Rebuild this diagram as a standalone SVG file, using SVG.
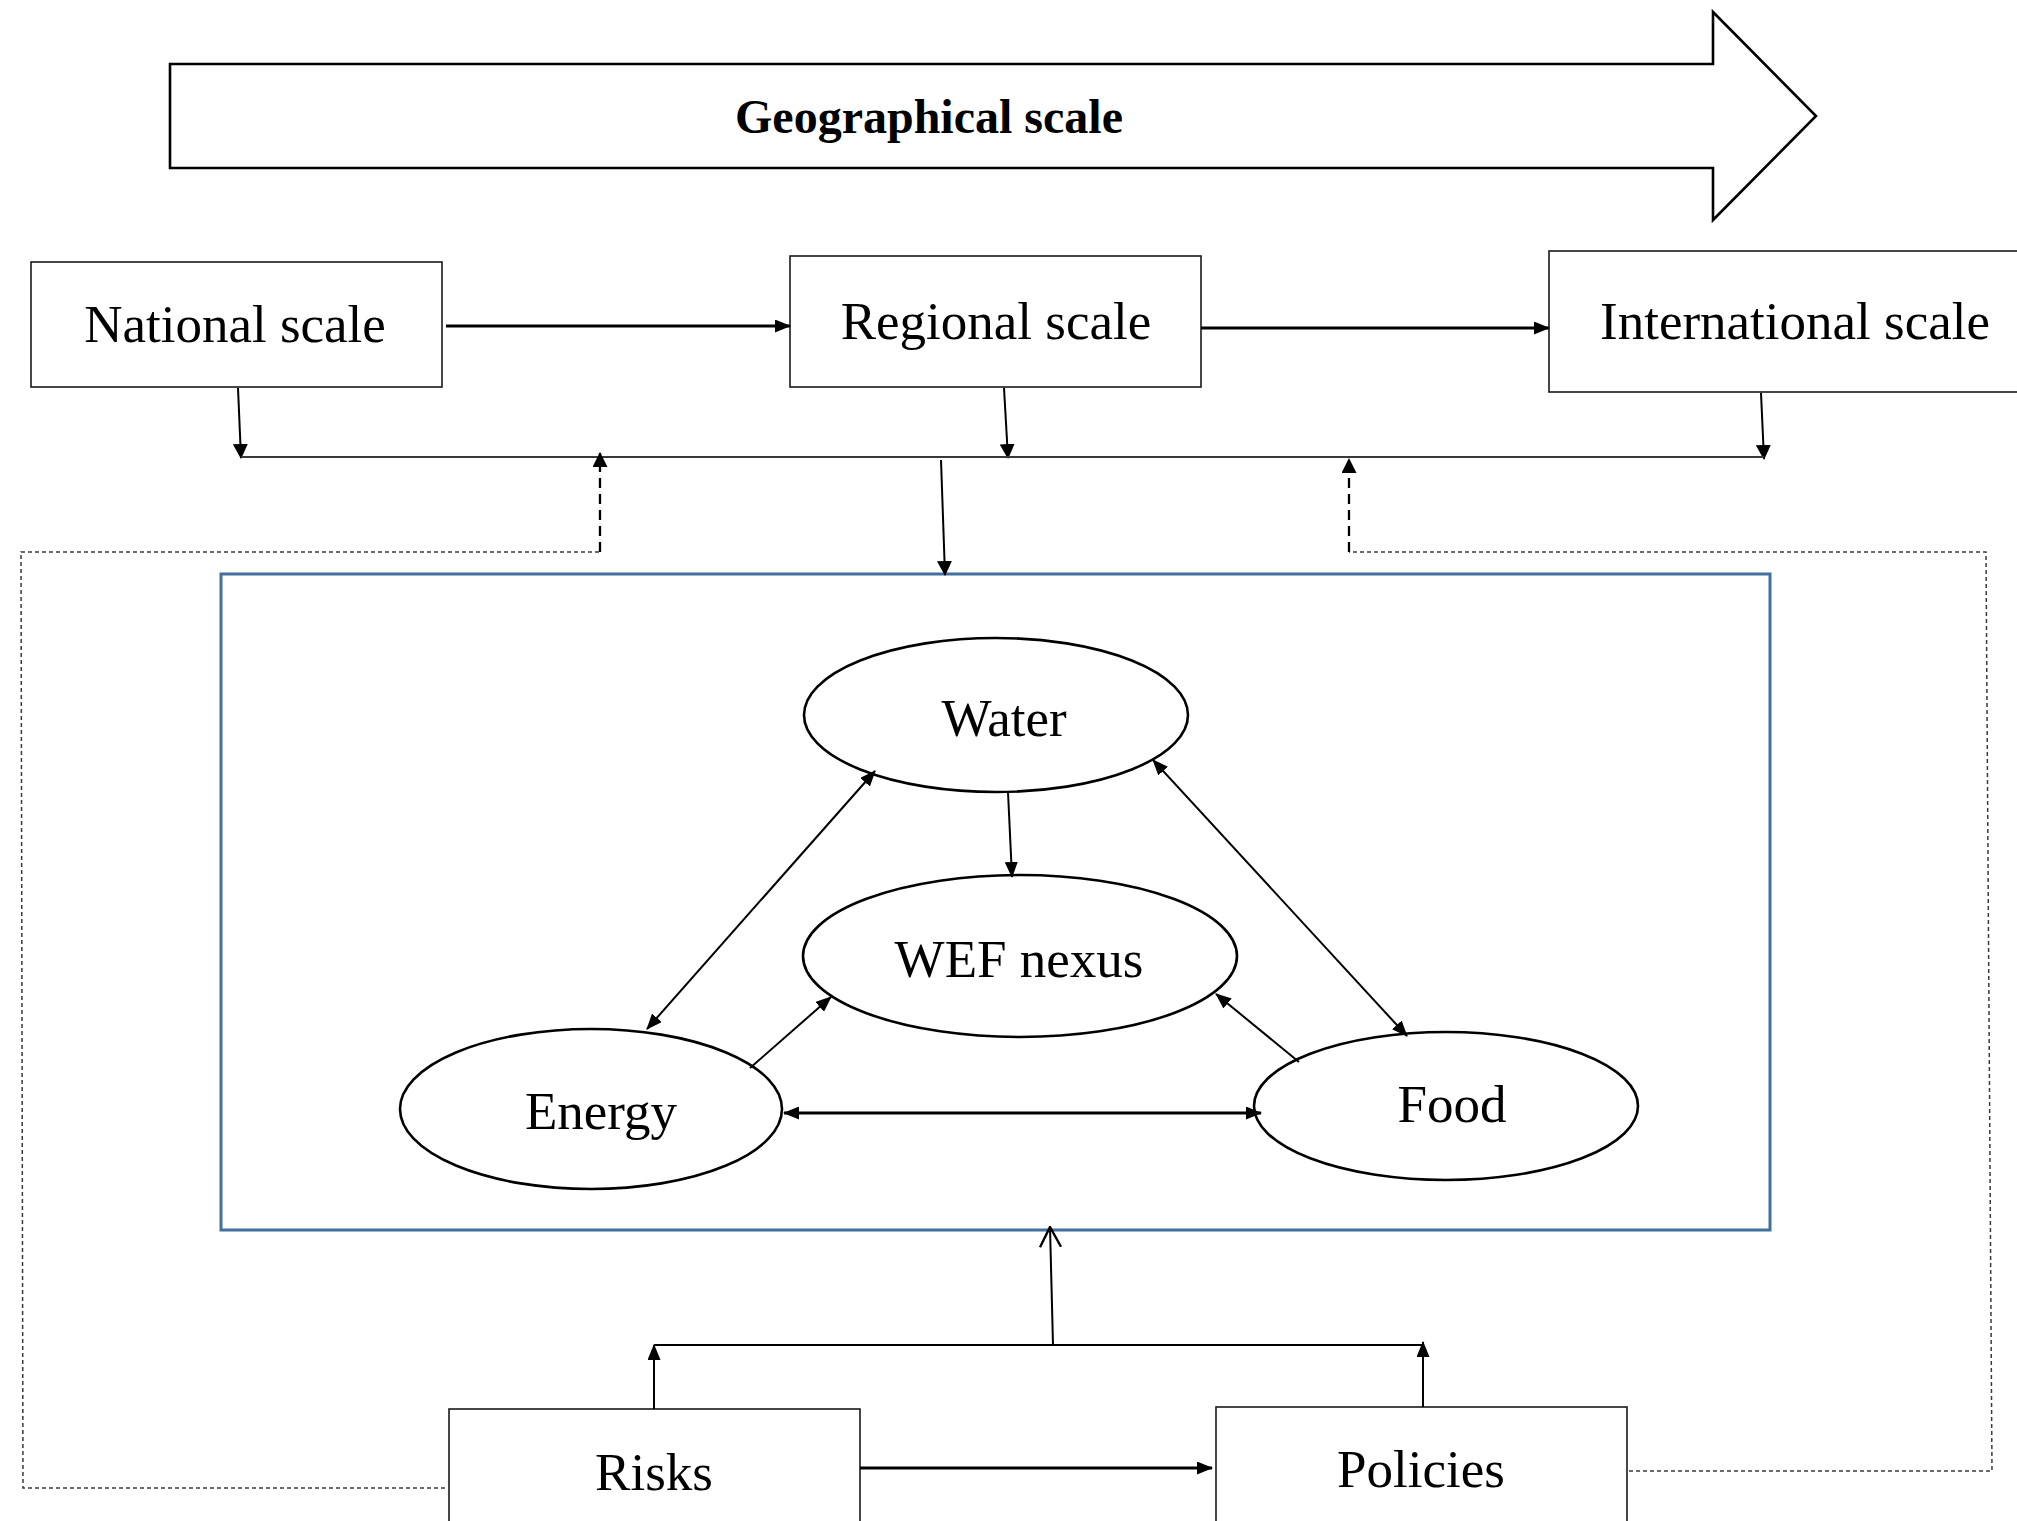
<svg xmlns="http://www.w3.org/2000/svg" width="2017" height="1521" viewBox="0 0 2017 1521">
  <style>
    .box { fill: #ffffff; stroke: #1a1a1a; stroke-width: 1.6; }
    .ell { fill: #ffffff; stroke: #000000; stroke-width: 2.6; }
    .lbl { font-family: "Liberation Serif", "Times New Roman", serif; font-size: 53px; fill: #000000; text-anchor: middle; }
    .title { font-family: "Liberation Serif", "Times New Roman", serif; font-size: 48px; font-weight: bold; fill: #000000; text-anchor: middle; }
    .c { fill: none; stroke: #000000; stroke-width: 2; }
    .thick { stroke-width: 3; }
    .bus { fill: none; stroke: #3a3a3a; stroke-width: 2; }
    .dot { fill: none; stroke: #3a3a3a; stroke-width: 1.5; stroke-dasharray: 4 3; }
    .dash { fill: none; stroke: #000000; stroke-width: 2.3; stroke-dasharray: 10 6; }
  </style>
  <defs>
    <marker id="ah" viewBox="0 0 16 13" refX="15" refY="6.5" markerWidth="16" markerHeight="13" markerUnits="userSpaceOnUse" orient="auto-start-reverse">
      <path d="M0,0 L16,6.5 L0,13 z" fill="#000000"/>
    </marker>
    <marker id="ahb" viewBox="0 0 15 15" refX="14" refY="7.5" markerWidth="15" markerHeight="15" markerUnits="userSpaceOnUse" orient="auto-start-reverse">
      <path d="M0,0 L15,7.5 L0,15 z" fill="#000000"/>
    </marker>
    <marker id="oa" viewBox="0 0 22 24" refX="21" refY="12" markerWidth="22" markerHeight="24" markerUnits="userSpaceOnUse" orient="auto">
      <path d="M1,1.5 L21,12 L1,22.5" fill="none" stroke="#000000" stroke-width="2.4"/>
    </marker>
  </defs>

  <g id="geographical-scale">
    <polygon points="170,64 1713,64 1713,12 1816,116 1713,220 1713,168 170,168" fill="#ffffff" stroke="#000000" stroke-width="2.6"/>
    <text class="title" x="929" y="133">Geographical scale</text>
  </g>

  <g id="national-scale">
    <rect class="box" x="31" y="262" width="411" height="125"/>
    <text class="lbl" x="235" y="342">National scale</text>
  </g>
  <g id="regional-scale">
    <rect class="box" x="790" y="256" width="411" height="131"/>
    <text class="lbl" x="996" y="339">Regional scale</text>
  </g>
  <g id="international-scale">
    <rect class="box" x="1549" y="251" width="520" height="141"/>
    <text class="lbl" x="1795" y="339">International scale</text>
  </g>

  <g id="wef-system">
    <rect x="221" y="574" width="1549" height="656" fill="none" stroke="#41719c" stroke-width="3"/>
  </g>

  <g id="water">
    <ellipse class="ell" cx="996" cy="715" rx="192" ry="77"/>
    <text class="lbl" x="1004" y="736">Water</text>
  </g>
  <g id="wef-nexus">
    <ellipse class="ell" cx="1020" cy="956" rx="217" ry="81"/>
    <text class="lbl" x="1019" y="977">WEF nexus</text>
  </g>
  <g id="energy">
    <ellipse class="ell" cx="591" cy="1109" rx="191" ry="80"/>
    <text class="lbl" x="601" y="1129">Energy</text>
  </g>
  <g id="food">
    <ellipse class="ell" cx="1446" cy="1106" rx="192" ry="74"/>
    <text class="lbl" x="1452" y="1122">Food</text>
  </g>

  <g id="risks">
    <rect class="box" x="449" y="1409" width="411" height="140"/>
    <text class="lbl" x="654" y="1490">Risks</text>
  </g>
  <g id="policies">
    <rect class="box" x="1216" y="1407" width="411" height="140"/>
    <text class="lbl" x="1421" y="1487">Policies</text>
  </g>

  <g id="connectors">
    <line class="c thick" x1="446" y1="326" x2="790" y2="326" marker-end="url(#ah)"/>
    <line class="c thick" x1="1201" y1="328" x2="1549" y2="328" marker-end="url(#ah)"/>
    <line class="c" x1="238" y1="388" x2="241" y2="458" marker-end="url(#ahb)"/>
    <line class="c" x1="1004" y1="388" x2="1008" y2="458" marker-end="url(#ahb)"/>
    <line class="c" x1="1761" y1="393" x2="1764" y2="459" marker-end="url(#ahb)"/>
    <line class="bus" x1="241" y1="457" x2="1764" y2="457"/>
    <line class="c" x1="941" y1="460" x2="945" y2="575" marker-end="url(#ahb)"/>

    <polyline class="dot" points="445,1488 23,1488 21,552 600,552"/>
    <line class="dash" x1="600" y1="552" x2="600" y2="453" marker-end="url(#ahb)"/>
    <polyline class="dot" points="1629,1471 1992,1471 1986,552 1349,552"/>
    <line class="dash" x1="1349" y1="552" x2="1349" y2="459" marker-end="url(#ahb)"/>

    <line class="c" x1="875" y1="771" x2="647" y2="1029" marker-start="url(#ah)" marker-end="url(#ah)"/>
    <line class="c" x1="1008" y1="792" x2="1012" y2="877" marker-end="url(#ah)"/>
    <line class="c" x1="750" y1="1068" x2="831" y2="997" marker-end="url(#ah)"/>
    <line class="c thick" x1="784" y1="1113" x2="1261" y2="1113" marker-start="url(#ah)" marker-end="url(#ah)"/>
    <line class="c" x1="1153" y1="760" x2="1407" y2="1036" marker-start="url(#ah)" marker-end="url(#ah)"/>
    <line class="c" x1="1299" y1="1062" x2="1216" y2="994" marker-end="url(#ah)"/>

    <line class="c" x1="654" y1="1409" x2="654" y2="1345" marker-end="url(#ah)"/>
    <line class="c" x1="1423" y1="1407" x2="1423" y2="1342" marker-end="url(#ah)"/>
    <line class="c" x1="654" y1="1345" x2="1423" y2="1345"/>
    <line class="c" x1="1053" y1="1345" x2="1050" y2="1227" marker-end="url(#oa)"/>
    <line class="c thick" x1="860" y1="1468" x2="1212" y2="1468" marker-end="url(#ah)"/>
  </g>
</svg>
